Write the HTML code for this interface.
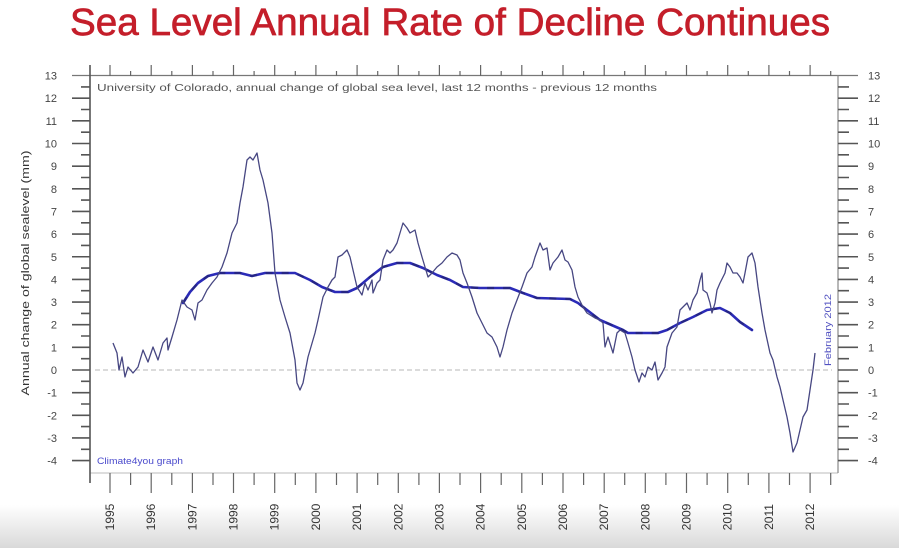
<!DOCTYPE html>
<html>
<head>
<meta charset="utf-8">
<style>
html,body{margin:0;padding:0;background:#fff;}
svg{display:block;}
</style>
</head>
<body>
<svg width="899" height="548" viewBox="0 0 899 548" xmlns="http://www.w3.org/2000/svg" font-family="Liberation Sans, sans-serif">
<defs>
<linearGradient id="bg" x1="0" y1="0" x2="0" y2="1">
<stop offset="0" stop-color="#ffffff"/>
<stop offset="1" stop-color="#d9d9d9"/>
</linearGradient>
</defs>
<rect x="0" y="0" width="899" height="548" fill="#fff"/>
<rect x="0" y="505" width="899" height="43" fill="url(#bg)"/>

<!-- Title -->
<text x="70" y="35" font-size="38" fill="#c41e2a" stroke="#c41e2a" stroke-width="0.7" textLength="760" lengthAdjust="spacingAndGlyphs">Sea Level Annual Rate of Decline Continues</text>

<!-- Plot box -->
<line x1="72" y1="75.5" x2="858" y2="75.5" stroke="#777" stroke-width="1.2"/>
<line x1="90" y1="473" x2="838" y2="473" stroke="#bbb" stroke-width="1"/>
<line x1="90" y1="65" x2="90" y2="483" stroke="#555" stroke-width="1.6"/>
<line x1="838" y1="75.5" x2="838" y2="473" stroke="#888" stroke-width="1.2"/>

<!-- Top ticks -->
<path stroke="#666" stroke-width="1.2" fill="none" d="
M110,65V76 M151.2,65V76 M192.4,65V76 M233.5,65V76 M274.7,65V76 M315.9,65V76 M357.1,65V76 M398.3,65V76 M439.4,65V76 M480.6,65V76 M521.8,65V76 M563,65V76 M604.2,65V76 M645.3,65V76 M686.5,65V76 M727.7,65V76 M768.9,65V76 M810.1,65V76
M130.6,71V76 M171.8,71V76 M213,71V76 M254.1,71V76 M295.3,71V76 M336.5,71V76 M377.7,71V76 M418.9,71V76 M460,71V76 M501.2,71V76 M542.4,71V76 M583.6,71V76 M624.7,71V76 M665.9,71V76 M707.1,71V76 M748.3,71V76 M789.5,71V76 M830.7,71V76"/>

<!-- Bottom ticks -->
<path stroke="#666" stroke-width="1.2" fill="none" d="
M110,473V493 M151.2,473V493 M192.4,473V493 M233.5,473V493 M274.7,473V493 M315.9,473V493 M357.1,473V493 M398.3,473V493 M439.4,473V493 M480.6,473V493 M521.8,473V493 M563,473V493 M604.2,473V493 M645.3,473V493 M686.5,473V493 M727.7,473V493 M768.9,473V493 M810.1,473V493
M130.6,473V485 M171.8,473V485 M213,473V485 M254.1,473V485 M295.3,473V485 M336.5,473V485 M377.7,473V485 M418.9,473V485 M460,473V485 M501.2,473V485 M542.4,473V485 M583.6,473V485 M624.7,473V485 M665.9,473V485 M707.1,473V485 M748.3,473V485 M789.5,473V485 M830.7,473V485"/>

<!-- Left ticks -->
<path stroke="#555" stroke-width="1.6" fill="none" d="
M72,98.2H90 M72,120.85H90 M72,143.5H90 M72,166.15H90 M72,188.8H90 M72,211.45H90 M72,234.1H90 M72,256.75H90 M72,279.4H90 M72,302.05H90 M72,324.7H90 M72,347.35H90 M72,370H90 M72,392.65H90 M72,415.3H90 M72,437.95H90 M72,460.6H90
M81,86.9H90 M81,109.5H90 M81,132.2H90 M81,154.8H90 M81,177.5H90 M81,200.1H90 M81,222.8H90 M81,245.4H90 M81,268.1H90 M81,290.7H90 M81,313.4H90 M81,336H90 M81,358.7H90 M81,381.3H90 M81,404H90 M81,426.6H90 M81,449.3H90"/>

<!-- Right ticks -->
<path stroke="#555" stroke-width="1.6" fill="none" d="
M838,98.2H858 M838,120.85H858 M838,143.5H858 M838,166.15H858 M838,188.8H858 M838,211.45H858 M838,234.1H858 M838,256.75H858 M838,279.4H858 M838,302.05H858 M838,324.7H858 M838,347.35H858 M838,370H858 M838,392.65H858 M838,415.3H858 M838,437.95H858 M838,460.6H858
M838,86.9H849 M838,109.5H849 M838,132.2H849 M838,154.8H849 M838,177.5H849 M838,200.1H849 M838,222.8H849 M838,245.4H849 M838,268.1H849 M838,290.7H849 M838,313.4H849 M838,336H849 M838,358.7H849 M838,381.3H849 M838,404H849 M838,426.6H849 M838,449.3H849"/>

<!-- Left labels -->
<g font-size="11" fill="#444" text-anchor="end">
<text x="57" y="79.5">13</text>
<text x="57" y="102.2">12</text>
<text x="57" y="124.9">11</text>
<text x="57" y="147.5">10</text>
<text x="57" y="170.2">9</text>
<text x="57" y="192.8">8</text>
<text x="57" y="215.5">7</text>
<text x="57" y="238.1">6</text>
<text x="57" y="260.8">5</text>
<text x="57" y="283.4">4</text>
<text x="57" y="306.1">3</text>
<text x="57" y="328.7">2</text>
<text x="57" y="351.4">1</text>
<text x="57" y="374">0</text>
<text x="57" y="396.7">-1</text>
<text x="57" y="419.3">-2</text>
<text x="57" y="442">-3</text>
<text x="57" y="464.6">-4</text>
</g>

<!-- Right labels -->
<g font-size="11" fill="#444" text-anchor="start">
<text x="868" y="79.5">13</text>
<text x="868" y="102.2">12</text>
<text x="868" y="124.9">11</text>
<text x="868" y="147.5">10</text>
<text x="868" y="170.2">9</text>
<text x="868" y="192.8">8</text>
<text x="868" y="215.5">7</text>
<text x="868" y="238.1">6</text>
<text x="868" y="260.8">5</text>
<text x="868" y="283.4">4</text>
<text x="868" y="306.1">3</text>
<text x="868" y="328.7">2</text>
<text x="868" y="351.4">1</text>
<text x="868" y="374">0</text>
<text x="868" y="396.7">-1</text>
<text x="868" y="419.3">-2</text>
<text x="868" y="442">-3</text>
<text x="868" y="464.6">-4</text>
</g>

<!-- Year labels -->
<g font-size="12" fill="#333" text-anchor="middle">
<text transform="translate(114,517) rotate(-90)">1995</text>
<text transform="translate(155.2,517) rotate(-90)">1996</text>
<text transform="translate(196.4,517) rotate(-90)">1997</text>
<text transform="translate(237.5,517) rotate(-90)">1998</text>
<text transform="translate(278.7,517) rotate(-90)">1999</text>
<text transform="translate(319.9,517) rotate(-90)">2000</text>
<text transform="translate(361.1,517) rotate(-90)">2001</text>
<text transform="translate(402.3,517) rotate(-90)">2002</text>
<text transform="translate(443.4,517) rotate(-90)">2003</text>
<text transform="translate(484.6,517) rotate(-90)">2004</text>
<text transform="translate(525.8,517) rotate(-90)">2005</text>
<text transform="translate(567,517) rotate(-90)">2006</text>
<text transform="translate(608.2,517) rotate(-90)">2007</text>
<text transform="translate(649.3,517) rotate(-90)">2008</text>
<text transform="translate(690.5,517) rotate(-90)">2009</text>
<text transform="translate(731.7,517) rotate(-90)">2010</text>
<text transform="translate(772.9,517) rotate(-90)">2011</text>
<text transform="translate(814.1,517) rotate(-90)">2012</text>
</g>

<!-- Y-axis title -->
<text transform="translate(29,273) rotate(-90)" font-size="11" fill="#333" text-anchor="middle" textLength="245" lengthAdjust="spacingAndGlyphs">Annual change of global sealevel (mm)</text>

<!-- Subtitle -->
<text x="97" y="91" font-size="10" fill="#555" textLength="560" lengthAdjust="spacingAndGlyphs">University of Colorado, annual change of global sea level, last 12 months - previous 12 months</text>

<!-- Credits -->
<text x="97" y="464" font-size="9" fill="#4a4acc" textLength="86" lengthAdjust="spacingAndGlyphs">Climate4you graph</text>
<text transform="translate(831,330) rotate(-90)" font-size="9" fill="#5050c0" text-anchor="middle" textLength="72" lengthAdjust="spacingAndGlyphs">February 2012</text>

<!-- Zero line -->
<line x1="95" y1="370" x2="832" y2="370" stroke="#cfcfcf" stroke-width="1.5" stroke-dasharray="5,3"/>

<!-- Smoothed series -->
<polyline fill="none" stroke="#2b2bb8" stroke-width="2.6" stroke-linejoin="round" stroke-linecap="round" points="183,303 190,292 198,283 208,276 220,273 240,273 252,276 265,273 295,273 310,280 322,287 335,292 348,292 357,288 370,277 383,267 397,263 410,263 423,268 437,275 450,280 463,287 480,288 510,288 523,293 537,298 570,299 578,303 587,310 600,320 623,330 628,333 658,333 667,330 680,323 693,317 707,310 720,308 730,313 740,322 752,330"/>
<polyline fill="none" stroke="#20205a" stroke-opacity="0.55" stroke-width="2.2" stroke-dasharray="7,9" points="183,303 190,292 198,283 208,276 220,273 240,273 252,276 265,273 295,273 310,280 322,287 335,292 348,292 357,288 370,277 383,267 397,263 410,263 423,268 437,275 450,280 463,287 480,288 510,288 523,293 537,298 570,299 578,303 587,310 600,320 623,330 628,333 658,333 667,330 680,323 693,317 707,310 720,308 730,313 740,322 752,330"/>

<!-- Main series -->
<polyline fill="none" stroke="#474782" stroke-width="1.3" stroke-linejoin="round" points="113,343 117,353 119,370 122,357 125,377 128,367 133,373 138,367 143,350 148,362 153,347 158,360 163,343 167,338 168,350 172,337 177,320 182,300 187,307 192,310 195,320 198,303 202,300 207,290 212,283 217,277 222,267 227,253 232,233 237,223 240,203 243,187 247,160 250,157 253,160 257,153 260,170 263,180 268,203 272,233 275,273 280,300 285,317 290,333 295,360 297,383 300,390 303,383 308,357 315,333 318,320 323,297 328,287 332,280 335,277 338,257 342,255 347,250 350,257 353,270 357,287 362,295 365,283 368,290 372,280 373,293 377,283 380,280 383,260 387,250 390,253 393,250 397,243 400,233 403,223 407,228 410,233 415,230 418,243 422,257 425,267 428,277 432,273 437,267 442,263 447,257 452,253 457,255 460,260 463,273 467,283 472,297 477,313 482,323 487,333 492,337 497,347 500,357 503,347 507,330 512,313 517,300 522,287 527,273 532,267 535,257 540,243 543,250 547,248 550,270 553,263 558,257 562,250 565,260 568,262 572,270 575,287 578,297 583,307 587,313 595,318 600,320 603,323 605,347 608,337 613,353 617,333 620,330 625,333 628,343 632,357 635,370 639,382 642,373 645,377 648,367 652,370 655,362 658,380 662,373 665,367 667,347 672,333 677,327 680,310 683,307 687,303 690,310 693,300 697,293 700,280 702,273 703,290 707,293 710,303 712,313 715,303 717,290 720,283 725,273 727,263 730,267 733,273 737,273 740,277 743,283 745,273 748,257 752,253 755,263 758,287 762,313 765,330 770,353 773,360 777,377 780,387 783,400 787,417 790,433 793,452 797,443 800,430 803,417 807,410 810,390 813,370 815,353"/>
</svg>
</body>
</html>
